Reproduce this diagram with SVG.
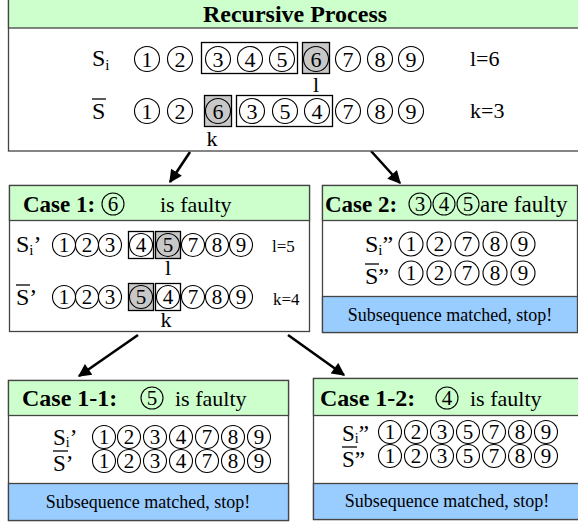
<svg xmlns="http://www.w3.org/2000/svg" width="578" height="523" viewBox="0 0 578 523">
<defs>
<style>
.box{fill:#fff;stroke:#444;stroke-width:1.3}
.hd{fill:#ccffcc;stroke:#444;stroke-width:1.3}
.bl{fill:#99ccff;stroke:#444;stroke-width:1.3}
.c{fill:none;stroke:#000;stroke-width:1.1}
text{font-family:'Liberation Serif','Times New Roman','DejaVu Serif',serif;fill:#000}
.d{font-size:22px;text-anchor:middle}
.ds{font-size:21px;text-anchor:middle}
.b{font-weight:bold}
.ob{fill:none;stroke:#000;stroke-width:1.3}
.gb{fill:#c8c8c8;stroke:#000;stroke-width:1.3}
.ln{stroke:#000;stroke-width:1.3}
.ar{stroke:#000;stroke-width:2.6;fill:none}
</style>
<marker id="ah" viewBox="0 0 10 10" refX="9" refY="5" markerWidth="5.5" markerHeight="5" orient="auto" markerUnits="strokeWidth">
<path d="M0,0 L10,5 L0,10 z" fill="#000"/>
</marker>
</defs>

<g id="connectors">
<line class="ar" x1="190" y1="152" x2="170" y2="182" marker-end="url(#ah)"/>
<line class="ar" x1="371" y1="151" x2="400" y2="183" marker-end="url(#ah)"/>
<line class="ar" x1="138" y1="335" x2="79" y2="376" marker-end="url(#ah)"/>
<line class="ar" x1="288" y1="335" x2="344" y2="375" marker-end="url(#ah)"/>
</g>

<g id="recursive-process">
<rect class="box" x="8.5" y="0" width="575" height="151"/>
<rect class="hd" x="8.5" y="-2" width="575" height="30"/>
<text class="b" x="295" y="22" font-size="24" text-anchor="middle">Recursive  Process</text>
<text x="92" y="66" font-size="24">S<tspan font-size="15" dy="4">i</tspan></text>
<rect class="ob" x="201.5" y="42.5" width="96" height="31"/>
<rect class="gb" x="302.5" y="42.5" width="27" height="31"/>
<circle class="c" cx="147" cy="59" r="12.5"/><text class="d" x="147" y="66.5">1</text>
<circle class="c" cx="180" cy="59" r="12.5"/><text class="d" x="180" y="66.5">2</text>
<circle class="c" cx="218" cy="59" r="12.5"/><text class="d" x="218" y="66.5">3</text>
<circle class="c" cx="250" cy="59" r="12.5"/><text class="d" x="250" y="66.5">4</text>
<circle class="c" cx="282" cy="59" r="12.5"/><text class="d" x="282" y="66.5">5</text>
<circle class="c" cx="316" cy="59" r="12.5" fill="#bdbdbd"/><text class="d" x="316" y="66.5">6</text>
<circle class="c" cx="348" cy="59" r="12.5"/><text class="d" x="348" y="66.5">7</text>
<circle class="c" cx="380" cy="59" r="12.5"/><text class="d" x="380" y="66.5">8</text>
<circle class="c" cx="411" cy="59" r="12.5"/><text class="d" x="411" y="66.5">9</text>
<text x="316" y="92" font-size="22" text-anchor="middle">l</text>
<text x="470" y="66" font-size="22">l=6</text>
<text x="92" y="119" font-size="24">S</text>
<line class="ln" x1="92" y1="99" x2="106" y2="99"/>
<rect class="gb" x="204.5" y="95.5" width="27" height="31"/>
<rect class="ob" x="236.5" y="95.5" width="96" height="31"/>
<circle class="c" cx="147" cy="111" r="12.5"/><text class="d" x="147" y="118.5">1</text>
<circle class="c" cx="180" cy="111" r="12.5"/><text class="d" x="180" y="118.5">2</text>
<circle class="c" cx="218" cy="111" r="12.5" fill="#bdbdbd"/><text class="d" x="218" y="118.5">6</text>
<circle class="c" cx="252" cy="111" r="12.5"/><text class="d" x="252" y="118.5">3</text>
<circle class="c" cx="285" cy="111" r="12.5"/><text class="d" x="285" y="118.5">5</text>
<circle class="c" cx="317" cy="111" r="12.5"/><text class="d" x="317" y="118.5">4</text>
<circle class="c" cx="348" cy="111" r="12.5"/><text class="d" x="348" y="118.5">7</text>
<circle class="c" cx="380" cy="111" r="12.5"/><text class="d" x="380" y="118.5">8</text>
<circle class="c" cx="411" cy="111" r="12.5"/><text class="d" x="411" y="118.5">9</text>
<text x="212" y="146" font-size="22" text-anchor="middle">k</text>
<text x="470" y="118" font-size="22">k=3</text>
</g>

<g id="case1">
<rect class="box" x="9.5" y="185.5" width="300" height="146"/>
<rect class="hd" x="9.5" y="185.5" width="300" height="35"/>
<text class="b" x="23" y="212" font-size="23">Case 1:</text>
<circle class="c" cx="113" cy="204" r="11"/><text class="ds" x="113" y="210.5" font-size="18">6</text>
<text x="160" y="212" font-size="22">is faulty</text>
<text x="16" y="252" font-size="24">S<tspan font-size="15" dy="3">i</tspan><tspan dy="-3">’</tspan></text>
<rect class="ob" x="128.5" y="231.5" width="25" height="27"/>
<rect class="gb" x="155.5" y="231.5" width="25" height="27"/>
<circle class="c" cx="64" cy="245" r="11.5"/><text class="ds" x="64" y="252">1</text>
<circle class="c" cx="87" cy="245" r="11.5"/><text class="ds" x="87" y="252">2</text>
<circle class="c" cx="110" cy="245" r="11.5"/><text class="ds" x="110" y="252">3</text>
<circle class="c" cx="141" cy="245" r="11.5"/><text class="ds" x="141" y="252">4</text>
<circle class="c" cx="168" cy="245" r="11.5" fill="#bdbdbd"/><text class="ds" x="168" y="252">5</text>
<circle class="c" cx="193" cy="245" r="11.5"/><text class="ds" x="193" y="252">7</text>
<circle class="c" cx="217" cy="245" r="11.5"/><text class="ds" x="217" y="252">8</text>
<circle class="c" cx="241" cy="245" r="11.5"/><text class="ds" x="241" y="252">9</text>
<text x="272" y="252" font-size="17">l=5</text>
<text x="168" y="275" font-size="22" text-anchor="middle">l</text>
<text x="16" y="305" font-size="24">S’</text>
<line class="ln" x1="16" y1="285" x2="30" y2="285"/>
<rect class="gb" x="128.5" y="283.5" width="25" height="27"/>
<rect class="ob" x="155.5" y="283.5" width="25" height="27"/>
<circle class="c" cx="64" cy="297" r="11.5"/><text class="ds" x="64" y="304">1</text>
<circle class="c" cx="87" cy="297" r="11.5"/><text class="ds" x="87" y="304">2</text>
<circle class="c" cx="110" cy="297" r="11.5"/><text class="ds" x="110" y="304">3</text>
<circle class="c" cx="141" cy="297" r="11.5" fill="#bdbdbd"/><text class="ds" x="141" y="304">5</text>
<circle class="c" cx="168" cy="297" r="11.5"/><text class="ds" x="168" y="304">4</text>
<circle class="c" cx="193" cy="297" r="11.5"/><text class="ds" x="193" y="304">7</text>
<circle class="c" cx="217" cy="297" r="11.5"/><text class="ds" x="217" y="304">8</text>
<circle class="c" cx="241" cy="297" r="11.5"/><text class="ds" x="241" y="304">9</text>
<text x="273" y="305" font-size="17">k=4</text>
<text x="166" y="327" font-size="22" text-anchor="middle">k</text>
</g>

<g id="case2">
<rect class="box" x="322.5" y="185.5" width="255" height="147"/>
<rect class="hd" x="322.5" y="185.5" width="255" height="35"/>
<rect class="bl" x="322.5" y="296.5" width="255" height="36"/>
<text class="b" x="325" y="212" font-size="23">Case 2:</text>
<circle class="c" cx="420" cy="204" r="11"/><text class="ds" x="420" y="210.5" font-size="18">3</text>
<circle class="c" cx="444" cy="204" r="11"/><text class="ds" x="444" y="210.5" font-size="18">4</text>
<circle class="c" cx="468" cy="204" r="11"/><text class="ds" x="468" y="210.5" font-size="18">5</text>
<text x="480" y="212" font-size="23">are faulty</text>
<text x="365" y="252" font-size="24">S<tspan font-size="15" dy="3">i</tspan><tspan dy="-3">”</tspan></text>
<circle class="c" cx="411" cy="244" r="12"/><text class="ds" x="411" y="251">1</text>
<circle class="c" cx="439" cy="244" r="12"/><text class="ds" x="439" y="251">2</text>
<circle class="c" cx="467" cy="244" r="12"/><text class="ds" x="467" y="251">7</text>
<circle class="c" cx="495" cy="244" r="12"/><text class="ds" x="495" y="251">8</text>
<circle class="c" cx="523" cy="244" r="12"/><text class="ds" x="523" y="251">9</text>
<text x="365" y="284" font-size="24">S”</text>
<line class="ln" x1="365" y1="264" x2="379" y2="264"/>
<circle class="c" cx="411" cy="273" r="12"/><text class="ds" x="411" y="280">1</text>
<circle class="c" cx="439" cy="273" r="12"/><text class="ds" x="439" y="280">2</text>
<circle class="c" cx="467" cy="273" r="12"/><text class="ds" x="467" y="280">7</text>
<circle class="c" cx="495" cy="273" r="12"/><text class="ds" x="495" y="280">8</text>
<circle class="c" cx="523" cy="273" r="12"/><text class="ds" x="523" y="280">9</text>
<text x="450" y="321" font-size="18" text-anchor="middle">Subsequence matched, stop!</text>
</g>

<g id="case1-1">
<rect class="box" x="8.5" y="380.5" width="280" height="140"/>
<rect class="hd" x="8.5" y="380.5" width="280" height="35"/>
<rect class="bl" x="8.5" y="483.5" width="280" height="37"/>
<text class="b" x="22" y="406" font-size="24">Case 1-1:</text>
<circle class="c" cx="152" cy="398" r="11"/><text class="ds" x="152" y="404.5" font-size="18">5</text>
<text x="175" y="406" font-size="22">is faulty</text>
<text x="53" y="445" font-size="23">S<tspan font-size="14" dy="2">i</tspan><tspan dy="-2">’</tspan></text>
<text x="53" y="471" font-size="23">S’</text>
<line class="ln" x1="53" y1="451" x2="68" y2="451"/>
<circle class="c" cx="104" cy="437" r="11.5"/><text class="ds" x="104" y="444">1</text>
<circle class="c" cx="129" cy="437" r="11.5"/><text class="ds" x="129" y="444">2</text>
<circle class="c" cx="155" cy="437" r="11.5"/><text class="ds" x="155" y="444">3</text>
<circle class="c" cx="181" cy="437" r="11.5"/><text class="ds" x="181" y="444">4</text>
<circle class="c" cx="207" cy="437" r="11.5"/><text class="ds" x="207" y="444">7</text>
<circle class="c" cx="233" cy="437" r="11.5"/><text class="ds" x="233" y="444">8</text>
<circle class="c" cx="259" cy="437" r="11.5"/><text class="ds" x="259" y="444">9</text>
<circle class="c" cx="104" cy="461" r="11.5"/><text class="ds" x="104" y="468">1</text>
<circle class="c" cx="129" cy="461" r="11.5"/><text class="ds" x="129" y="468">2</text>
<circle class="c" cx="155" cy="461" r="11.5"/><text class="ds" x="155" y="468">3</text>
<circle class="c" cx="181" cy="461" r="11.5"/><text class="ds" x="181" y="468">4</text>
<circle class="c" cx="207" cy="461" r="11.5"/><text class="ds" x="207" y="468">7</text>
<circle class="c" cx="233" cy="461" r="11.5"/><text class="ds" x="233" y="468">8</text>
<circle class="c" cx="259" cy="461" r="11.5"/><text class="ds" x="259" y="468">9</text>
<text x="148" y="508" font-size="18" text-anchor="middle">Subsequence matched, stop!</text>
</g>

<g id="case1-2">
<rect class="box" x="313.5" y="378.5" width="266" height="141"/>
<rect class="hd" x="313.5" y="378.5" width="266" height="37"/>
<rect class="bl" x="313.5" y="483.5" width="266" height="36"/>
<text class="b" x="320" y="406" font-size="24">Case 1-2:</text>
<circle class="c" cx="447" cy="398" r="11"/><text class="ds" x="447" y="404.5" font-size="18">4</text>
<text x="470" y="406" font-size="22">is faulty</text>
<text x="342" y="441" font-size="23">S<tspan font-size="14" dy="2">i</tspan><tspan dy="-2">”</tspan></text>
<text x="342" y="467" font-size="23">S”</text>
<line class="ln" x1="342" y1="447" x2="357" y2="447"/>
<circle class="c" cx="390" cy="432" r="11.5"/><text class="ds" x="390" y="439">1</text>
<circle class="c" cx="416" cy="432" r="11.5"/><text class="ds" x="416" y="439">2</text>
<circle class="c" cx="442" cy="432" r="11.5"/><text class="ds" x="442" y="439">3</text>
<circle class="c" cx="468" cy="432" r="11.5"/><text class="ds" x="468" y="439">5</text>
<circle class="c" cx="494" cy="432" r="11.5"/><text class="ds" x="494" y="439">7</text>
<circle class="c" cx="520" cy="432" r="11.5"/><text class="ds" x="520" y="439">8</text>
<circle class="c" cx="546" cy="432" r="11.5"/><text class="ds" x="546" y="439">9</text>
<circle class="c" cx="390" cy="456" r="11.5"/><text class="ds" x="390" y="463">1</text>
<circle class="c" cx="416" cy="456" r="11.5"/><text class="ds" x="416" y="463">2</text>
<circle class="c" cx="442" cy="456" r="11.5"/><text class="ds" x="442" y="463">3</text>
<circle class="c" cx="468" cy="456" r="11.5"/><text class="ds" x="468" y="463">5</text>
<circle class="c" cx="494" cy="456" r="11.5"/><text class="ds" x="494" y="463">7</text>
<circle class="c" cx="520" cy="456" r="11.5"/><text class="ds" x="520" y="463">8</text>
<circle class="c" cx="546" cy="456" r="11.5"/><text class="ds" x="546" y="463">9</text>
<text x="447" y="507" font-size="18" text-anchor="middle">Subsequence matched, stop!</text>
</g>
</svg>
